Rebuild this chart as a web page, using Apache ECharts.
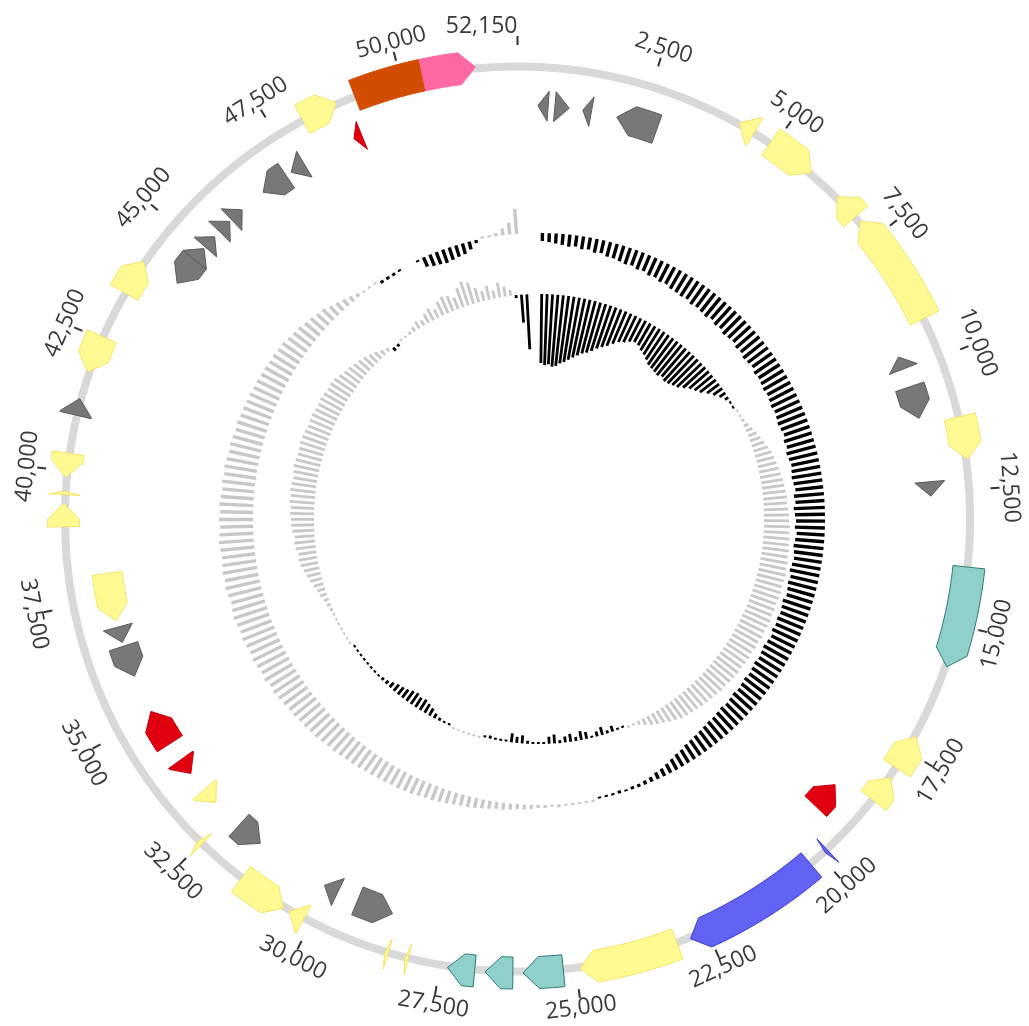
<!DOCTYPE html>
<html>
<head>
<meta charset="utf-8">
<script src="https://cdn.jsdelivr.net/npm/echarts@6/dist/echarts.min.js"></script>
<style>
  html, body { margin: 0; padding: 0; background: #fff; }
  #chart { width: 1029px; height: 1026px; }
</style>
</head>
<body>
<div id="chart"></div>
<script>
// ---- Genome and scale ----
const GENOME_LENGTH = 52150;
const WINDOW = 200;

const tickValues = [2500, 5000, 7500, 10000, 12500, 15000, 17500, 20000, 22500, 25000,
  27500, 30000, 32500, 35000, 37500, 40000, 42500, 45000, 47500, 50000, 52150];
const tickLabels = ['2,500', '5,000', '7,500', '10,000', '12,500', '15,000', '17,500', '20,000',
  '22,500', '25,000', '27,500', '30,000', '32,500', '35,000', '37,500', '40,000', '42,500',
  '45,000', '47,500', '50,000', '52,150'];

// ---- Annotated features (bp), strand (1 forward, -1 reverse, 0 none), lane, kind ----
const featStart = [410, 750, 1315, 2010, 4240, 4910, 6490, 7100, 9700, 10340, 11150, 12290,
  13920, 17190, 18070, 18820, 19830, 20230, 23090, 25235, 26160, 26860, 28100, 28480, 28620,
  29800, 30150, 30570, 31640, 32470, 32850, 33620, 34350, 35880, 36600, 37050, 38970, 39560,
  39880, 41030, 41850, 43450, 44140, 44730, 45060, 45480, 45820, 46660, 47350, 48050, 48780,
  49100, 50400];
const featEnd = [615, 1040, 1490, 2850, 4560, 5840, 6980, 9230, 9960, 11000, 11940, 12580,
  15790, 17860, 18590, 19400, 19890, 22830, 24930, 25975, 26670, 27360, 28160, 28540, 29370,
  30100, 30450, 31510, 32200, 32560, 33200, 33960, 35100, 36520, 36920, 38020, 39400, 39620,
  40320, 41340, 42550, 44120, 44720, 45020, 45340, 45770, 46110, 47230, 47660, 48740, 48950,
  50400, 51380];
const featStrand = [-1, 1, -1, -1, -1, 1, -1, -1, -1, 1, 1, 1, 1, -1, -1, -1, 1, 1, 1, 1, 1, 1,
  1, 1, -1, 1, 1, -1, -1, 1, -1, -1, 1, -1, -1, -1, 1, 1, -1, 1, -1, 1, -1, 1, 1, 1, 1, -1, -1,
  1, -1, 0, 1];
const featLane = [1, 1, 1, 1, 0, 0, 0, 0, 1, 1, 0, 1, 0, 0, 0, 1, 0, 0, 0, 0, 0, 0, 0, 0, 1, 1,
  0, 0, 1, 0, 1, 1, 1, 1, 1, 1, 0, 0, 0, 0, 0, 0, 1, 1, 1, 1, 1, 1, 1, 0, 1, 0, 0];
const featKind = ['gray', 'gray', 'gray', 'gray', 'yellow', 'yellow', 'yellow', 'yellow', 'gray',
  'gray', 'yellow', 'gray', 'teal', 'yellow', 'yellow', 'red', 'blue', 'blue', 'yellow', 'teal',
  'teal', 'teal', 'yellow', 'yellow', 'gray', 'gray', 'yellow', 'yellow', 'gray', 'yellow',
  'yellow', 'red', 'red', 'gray', 'gray', 'yellow', 'yellow', 'yellow', 'yellow', 'gray',
  'yellow', 'yellow', 'gray', 'gray', 'gray', 'gray', 'gray', 'gray', 'gray', 'yellow', 'red',
  'orange', 'pink'];

// ---- GC skew per 200 bp window (positive drawn black, inward) ----
const gcSkew = [
  0.08, 0.09, 0.10, 0.11, 0.12, 0.11, 0.13, 0.12, 0.14, 0.13, 0.15, 0.15, 0.16, 0.17, 0.16, 0.18,
  0.17, 0.19, 0.18, 0.20, 0.19, 0.21,
  0.21, 0.22, 0.21, 0.23, 0.22, 0.23, 0.24, 0.22, 0.24, 0.23, 0.25, 0.24, 0.23, 0.25, 0.24, 0.26,
  0.25, 0.24, 0.26, 0.25, 0.26, 0.27,
  0.26, 0.27, 0.28, 0.27, 0.28, 0.29, 0.28, 0.27, 0.29, 0.28, 0.30, 0.29, 0.28, 0.29, 0.30, 0.29,
  0.28, 0.30, 0.29, 0.31, 0.30, 0.29, 0.30, 0.28, 0.29, 0.30, 0.29, 0.28, 0.29, 0.30, 0.28, 0.29,
  0.28, 0.27, 0.29, 0.28, 0.27, 0.28, 0.27, 0.28, 0.26, 0.27, 0.28,
  0.27, 0.26, 0.27, 0.26, 0.25, 0.26, 0.25, 0.24, 0.25, 0.24, 0.23, 0.24, 0.23, 0.22, 0.22,
  0.21, 0.20, 0.19, 0.18, 0.17, 0.15, 0.14,
  0.12, 0.10, 0.08, 0.07, 0.05, 0.04,
  0.03, 0.03, 0.02, 0.03, 0.02, 0.02, 0.01,
  -0.01, -0.02, -0.01, -0.02, -0.02, -0.03, -0.02, -0.03, -0.03,
  -0.04, -0.05, -0.05, -0.06, -0.07, -0.07, -0.08,
  -0.09, -0.10, -0.11, -0.11, -0.12, -0.13, -0.14,
  -0.15, -0.15, -0.16, -0.17, -0.17, -0.18, -0.18, -0.19, -0.19, -0.20, -0.20,
  -0.21, -0.22, -0.22, -0.23, -0.24, -0.24, -0.25, -0.26, -0.26, -0.27, -0.27, -0.28, -0.28, -0.29,
  -0.30, -0.31, -0.30, -0.32, -0.31, -0.32, -0.33, -0.32, -0.33, -0.34,
  -0.33, -0.34, -0.35, -0.34, -0.33, -0.34, -0.35, -0.34, -0.35, -0.34,
  -0.33, -0.34, -0.35, -0.34, -0.33, -0.34, -0.33, -0.34, -0.33, -0.32,
  -0.33, -0.32, -0.33, -0.32, -0.31, -0.32, -0.31, -0.30, -0.31, -0.30,
  -0.30, -0.29, -0.29, -0.28, -0.28, -0.27, -0.27, -0.26, -0.26, -0.25, -0.25,
  -0.23, -0.22, -0.21, -0.19, -0.18, -0.16, -0.15,
  -0.12, -0.10, -0.08, -0.06, -0.04,
  -0.02, -0.01, -0.01, 0.03, 0.03, 0.03, 0.02, 0, 0, 0.01,
  0.10, 0.12, 0.13, 0.14, 0.13, 0.12, 0.11, 0.08, 0.03,
  -0.02, -0.02, -0.03, -0.07, -0.12, -0.25, 0, 0, 0
];

// ---- GC content deviation from the mean, % per 200 bp window (above mean drawn black, inward) ----
const gcContent = [
  13.8, 14.2, 14.0, 14.4, 14.2, 13.6, 13.2,
  12.6, 12.0, 11.4, 10.8, 10.4,
  9.8, 9.0, 8.4,
  7.8, 7.0, 6.2, 5.8, 5.2, 4.8, 5.0,
  5.6, 6.0, 6.6, 7.2,
  7.4, 7.6, 7.8, 7.4, 7.8, 7.6, 7.2, 6.8,
  6.0, 5.2, 4.6, 4.0,
  3.0, 2.2, 1.4, 0.8,
  0.4, 0.3,
  -0.3, -0.4, -0.6,
  -1.0, -1.4, -1.8, -2.2, -2.6, -3.0, -3.4,
  -3.6, -3.8, -4.0, -4.2, -4.4, -4.5, -4.6, -4.8, -4.7, -4.9, -5.0,
  -5.0, -5.2, -5.1, -5.3, -5.2, -5.4, -5.3, -5.5, -5.4, -5.6,
  -5.5, -5.4, -5.6, -5.5, -5.3, -5.5, -5.4, -5.6, -5.5, -5.4,
  -5.5, -5.3, -5.4, -5.2, -5.4, -5.3, -5.2, -5.3, -5.2,
  -5.2, -5.0, -5.1, -4.9, -4.8, -4.7, -4.6, -4.4, -4.3, -4.2, -4.0,
  -3.6, -3.2, -2.8, -2.4, -2.0, -1.4, -0.8,
  -0.4, -0.3,
  0.3, 0.4, 1.2, 0.6, 1.6, 1.0, 0.4, 1.4, 1.8, 0.8, 1.6, 1.2, 0.6, 1.8, 1.4, 0.4, 0.3, 0.3,
  0.6, 1.6, 1.2, 1.8, 0.4, 0.3,
  0.3, 0.6, 0.3,
  -0.2, -0.3, -0.2, -0.3, -0.2, -0.2,
  0.3, 0.4, 0.6,
  1.0, 1.6, 2.0, 2.4, 2.2, 2.6, 2.4, 2.0, 1.8,
  1.6, 1.2, 0.8, 0.6, 0.4,
  0.3, 0.4, 0.3, 0.3, 0.2, 0.3, 0.2,
  -0.2, -0.2, -0.3, -0.2, -0.3, -0.3, -0.4,
  -0.6, -0.8, -1.0, -1.4, -1.6, -2.0, -2.4,
  -2.8, -3.2, -3.6, -3.8, -3.6, -4.0, -4.2, -4.0, -4.4, -4.6,
  -4.6, -4.8, -4.7, -5.0, -4.9, -5.1, -5.0, -4.8, -5.0, -5.2,
  -5.1, -4.9, -5.0, -5.2, -5.1, -5.0, -4.8, -4.9, -5.0, -4.8,
  -4.7, -4.9, -4.8, -4.6, -4.7,
  -4.6, -4.2, -3.8, -3.6, -3.2, -3.0, -2.6, -2.2, -1.8,
  -1.2, -0.8,
  0.8, 0.6,
  -0.3, -0.3,
  -0.6, -1.0, -1.6, -1.2,
  -2.0, -2.6, -1.8, -3.0, -3.6, -3.2, -2.4, -4.0,
  -5.0, -4.4, -3.0, -2.0,
  -2.8, -1.6, -3.0, -2.0, -1.2,
  0.6, 5.6, 11.0, 0, 0
];

// ---- Drawing constants ----
const LANE_R = [454, 414];
const LANE_HW = [16, 15];
const HEAD_PX = 16;
const BACKBONE_R = 452.5;
const TICK_IN = 474, TICK_OUT = 483, LABEL_R = 493;
const SKEW_BASE = 286, SKEW_SCALE = 100;
const GC_BASE = 225, GC_SCALE = 5;

const KIND_STYLE = {
  yellow: { fill: '#fffa92', stroke: '#f1e66c' },
  gray:   { fill: '#787878', stroke: '#5c5c5c' },
  teal:   { fill: '#8fd0ca', stroke: '#2f7a74' },
  blue:   { fill: '#6262f4', stroke: '#3e3ec2' },
  orange: { fill: '#d24c02', stroke: '#d24c02' },
  pink:   { fill: '#ff68a3', stroke: '#ff68a3' },
  red:    { fill: '#e1000f', stroke: '#c4000d' }
};
const KIND_LIST = Object.keys(KIND_STYLE);

const windowMid = i => (i * WINDOW + Math.min((i + 1) * WINDOW, GENOME_LENGTH)) / 2;

function arc(api, r, a0, a1) {
  const n = Math.max(1, Math.ceil(Math.abs(a1 - a0) / 120));
  const pts = [];
  for (let k = 0; k <= n; k++) pts.push(api.coord([r, a0 + (a1 - a0) * k / n]));
  return pts;
}

function polarAxes(idx) {
  return {
    angle: { polarIndex: idx, type: 'value', min: 0, max: GENOME_LENGTH, startAngle: 90,
      clockwise: true, show: false },
    radius: { polarIndex: idx, type: 'value', min: 0, max: 500, show: false }
  };
}
const ax0 = polarAxes(0), ax1 = polarAxes(1);

const featureData = featStart.map((s, i) =>
  [s, featEnd[i], featStrand[i], featLane[i], KIND_LIST.indexOf(featKind[i])]);

function renderFeature(params, api) {
  const start = api.value(0), end = api.value(1), strand = api.value(2);
  const lane = api.value(3), kind = KIND_LIST[api.value(4)];
  const rc = LANE_R[lane], hw = LANE_HW[lane];
  const ri = rc - hw, ro = rc + hw;
  const bpPerPx = GENOME_LENGTH / (2 * Math.PI * rc);
  const head = strand === 0 ? 0 : Math.min(HEAD_PX * bpPerPx, end - start);
  let pts;
  if (strand > 0) {
    const b = end - head;
    pts = arc(api, ro, start, b).concat([api.coord([rc, end])], arc(api, ri, b, start));
  } else if (strand < 0) {
    const b = start + head;
    pts = [api.coord([rc, start])].concat(arc(api, ro, b, end), arc(api, ri, end, b));
  } else {
    pts = arc(api, ro, start, end).concat(arc(api, ri, end, start));
  }
  const st = KIND_STYLE[kind];
  return { type: 'polygon', shape: { points: pts },
    style: { fill: st.fill, stroke: st.stroke, lineWidth: 1, lineJoin: 'miter' } };
}

function plotRenderer(base, scale, width) {
  return function (params, api) {
    const mid = api.value(0), v = api.value(1);
    if (!v) return null;
    let len = v * scale;
    if (Math.abs(len) < 2) len = len > 0 ? 2 : -2;
    const p0 = api.coord([base, mid]);
    const p1 = api.coord([base - len, mid]);
    return { type: 'line', shape: { x1: p0[0], y1: p0[1], x2: p1[0], y2: p1[1] },
      style: { stroke: v > 0 ? '#000000' : '#c8c8c8', lineWidth: width } };
  };
}

const option = {
  backgroundColor: '#ffffff',
  animation: false,
  polar: [
    { center: [517.5, 519], radius: 500 },
    { center: [539, 519], radius: 500 }
  ],
  angleAxis: [ax0.angle, ax1.angle],
  radiusAxis: [ax0.radius, ax1.radius],
  series: [
    // GC skew ring
    {
      type: 'custom', coordinateSystem: 'polar', polarIndex: 1, clip: false, silent: true,
      encode: { angle: 0, radius: 1 },
      data: gcSkew.map((v, i) => [windowMid(i), v]),
      renderItem: plotRenderer(SKEW_BASE, SKEW_SCALE, 3.4)
    },
    // GC content ring
    {
      type: 'custom', coordinateSystem: 'polar', polarIndex: 1, clip: false, silent: true,
      encode: { angle: 0, radius: 1 },
      data: gcContent.map((v, i) => [windowMid(i), v]),
      renderItem: plotRenderer(GC_BASE, GC_SCALE, 2.8)
    },
    // backbone
    {
      type: 'custom', coordinateSystem: 'polar', polarIndex: 0, clip: false, silent: true,
      encode: { angle: 0, radius: 1 },
      data: [[0, 0]],
      renderItem: function (params, api) {
        return { type: 'polyline', shape: { points: arc(api, BACKBONE_R, 0, GENOME_LENGTH) },
          style: { stroke: '#d9d9d9', lineWidth: 8, fill: null } };
      }
    },
    // features
    {
      type: 'custom', coordinateSystem: 'polar', polarIndex: 0, clip: false, silent: true,
      encode: { angle: 0, radius: 3 },
      data: featureData,
      renderItem: renderFeature
    },
    // ticks
    {
      type: 'custom', coordinateSystem: 'polar', polarIndex: 0, clip: false, silent: true,
      encode: { angle: 0, radius: 1 },
      data: tickValues.map((v, i) => [v, i]),
      renderItem: function (params, api) {
        const v = api.value(0);
        const p0 = api.coord([TICK_IN, v]), p1 = api.coord([TICK_OUT, v]);
        return { type: 'line', shape: { x1: p0[0], y1: p0[1], x2: p1[0], y2: p1[1] },
          style: { stroke: '#333333', lineWidth: 2 } };
      }
    },
    // tick labels
    {
      type: 'custom', coordinateSystem: 'polar', polarIndex: 0, clip: false, silent: true,
      encode: { angle: 0, radius: 1 },
      data: tickValues.map((v, i) => [v, i]),
      renderItem: function (params, api) {
        const v = api.value(0), i = api.value(1);
        const p = api.coord([LABEL_R, v]);
        const theta = v / GENOME_LENGTH * 2 * Math.PI;
        const lower = theta > Math.PI / 2 && theta < 3 * Math.PI / 2;
        const rot = lower ? Math.PI - theta : -theta;
        const last = v === GENOME_LENGTH;
        return { type: 'text', x: p[0], y: p[1], rotation: rot,
          style: { text: tickLabels[i], fill: '#3a3a3a', fontSize: 23,
            fontFamily: '"Open Sans", "Noto Sans", sans-serif',
            align: last ? 'right' : 'center', verticalAlign: 'middle' } };
      }
    }
  ]
};

const chart = echarts.init(document.getElementById('chart'), null, { renderer: 'canvas' });
chart.setOption(option);
</script>
</body>
</html>
